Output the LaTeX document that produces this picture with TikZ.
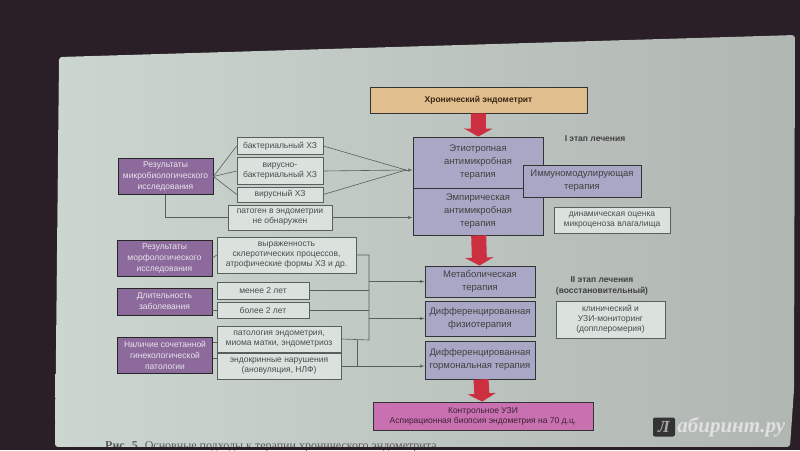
\documentclass[tikz,border=0pt]{standalone}
\usepackage{fontspec}
\setmainfont{Liberation Sans}
\newfontfamily\capfont{Liberation Serif}
\usepackage{tikz}
\usetikzlibrary{positioning, shapes, arrows, arrows.meta}
\definecolor{bgdark}{RGB}{42,31,38}
\definecolor{paperL}{RGB}{204,214,208}
\definecolor{paperR}{RGB}{176,182,178}
\definecolor{boxblue}{RGB}{168,168,198}
\definecolor{boxpurple}{RGB}{140,106,156}
\definecolor{boxpink}{RGB}{200,112,176}
\definecolor{boxorange}{RGB}{224,190,142}
\definecolor{arrowred}{RGB}{204,48,64}
\definecolor{linegrey}{RGB}{88,96,94}
\definecolor{textgrey}{RGB}{70,78,76}
\tikzset{font=\fontsize{8.5}{10}\selectfont}
\tikzstyle{point}    = [coordinate]
\tikzstyle{block}    = [draw=black!80, rectangle, fill=boxblue, text=black!75, align=center, inner sep=1pt, line width=0.8pt, font=\fontsize{9.5}{13}\selectfont]
\tikzstyle{factor}   = [draw=black!85, rectangle, fill=boxpurple, text=white!82!boxpurple, align=center, inner sep=1pt, line width=0.8pt, minimum width=95pt, font=\fontsize{8.5}{11}\selectfont]
\tikzstyle{item}     = [draw=linegrey, rectangle, fill=paperL!70!white, text=textgrey, align=center, inner sep=1pt, line width=0.6pt]
\tikzstyle{stage}    = [font=\bfseries\fontsize{8.5}{11}\selectfont, text=black!75, align=center]
\tikzstyle{bigarrow} = [draw=arrowred, line width=15pt, -{Triangle[width=28pt,length=8pt]}]
\tikzstyle{wire}     = [draw=linegrey, line width=0.6pt]

\begin{document}
\begin{tikzpicture}[x=1pt, y=-1pt, >=latex']
	\useasboundingbox (0,0) rectangle (800,450);
	\fill[bgdark] (0,0) rectangle (800,450);
	\fill[left color=paperL, right color=paperR, rounded corners=3pt] (59,57) -- (795,35) -- (794,390) -- (790,447) -- (55,447) -- cycle;

	% right column: treatment
	\node [rectangle, draw=black!80, line width=0.8pt, fill=boxorange, text=black!70!brown, font=\bfseries\fontsize{8.5}{10}\selectfont, minimum width=217pt, minimum height=26pt] (chron) at (478.5,100) {Хронический эндометрит};
	\node [block, minimum width=130pt, minimum height=51pt] (etio) at (478,162.5) {Этиотропная\\антимикробная\\терапия};
	\node [block, below of=etio, node distance=49pt, minimum width=130pt, minimum height=47pt] (emp) {Эмпирическая\\антимикробная\\терапия};
	\node [block, minimum width=118pt, minimum height=32pt] (immuno) at (582,181) {Иммуномодулирующая\\терапия};
	\node [stage] (stage1) at (595,139) {I этап лечения};
	\node [item, minimum width=116pt, minimum height=26pt] (dyn) at (612,220) {динамическая оценка\\микроценоза влагалища};

	\node [block, minimum width=110pt, minimum height=31pt] (metab) at (480,281.5) {Метаболическая\\терапия};
	\node [block, below of=metab, node distance=37pt, minimum width=110pt, minimum height=35pt] (physio) {Дифференцированная\\физиотерапия};
	\node [block, below of=physio, node distance=41.5pt, minimum width=110pt, minimum height=38pt] (hormon) {Дифференцированная\\гормональная терапия};
	\node [rectangle, draw=black!80, line width=0.8pt, fill=boxpink, text=black!70!boxpink, align=center, minimum width=220pt, minimum height=28pt, inner sep=1pt] (control) at (483,416) {Контрольное УЗИ\\Аспирационная биопсия эндометрия на 70 д.ц.};
	\node [stage] (stage2) at (602,286) {II этап лечения\\(восстановительный)};
	\node [item, minimum width=109pt, minimum height=37pt] (monitor) at (610.5,319.5) {клинический и\\УЗИ-мониторинг\\(допплеромерия)};

	% left column: findings
	\node [factor, minimum height=36pt] (micro) at (165.5,176.5) {Результаты\\микробиологического\\исследования};
	\node [item, minimum width=86pt, minimum height=17pt] (bact) at (280,146) {бактериальный ХЗ};
	\node [item, below of=bact, node distance=25pt, minimum width=86pt, minimum height=27pt] (virbact) {вирусно-\\бактериальный ХЗ};
	\node [item, below of=virbact, node distance=23.5pt, minimum width=86pt, minimum height=15pt] (virus) {вирусный ХЗ};
	\node [item, minimum width=104pt, minimum height=25pt] (nopat) at (280,217.5) {патоген в эндометрии\\не обнаружен};

	\node [factor, minimum height=36pt] (morph) at (164.5,258) {Результаты\\морфологического\\исследования};
	\node [item, minimum width=139pt, minimum height=36pt] (scler) at (286.5,255) {выраженность\\склеротических процессов,\\атрофические формы ХЗ и др.};
	\node [factor, minimum height=27pt] (durat) at (164.5,301.5) {Длительность\\заболевания};
	\node [item, minimum width=92pt, minimum height=17pt] (less2) at (263,290.5) {менее 2 лет};
	\node [item, below of=less2, node distance=19.5pt, minimum width=92pt, minimum height=16pt] (more2) {более 2 лет};
	\node [factor, minimum height=36pt] (gyn) at (165,355) {Наличие сочетанной\\гинекологической\\патологии};
	\node [item, minimum width=124pt, minimum height=26pt] (patend) at (279,339) {патология эндометрия,\\миома матки, эндометриоз};
	\node [item, minimum width=124pt, minimum height=26pt] (endocr) at (279,366) {эндокринные нарушения\\(ановуляция, НЛФ)};

	\node [point] (join) at (406,170) {};
	\node [point] (bus1) at (369,340) {};
	\node [point] (bus2) at (357,340) {};

	\draw [bigarrow] (chron) -- (etio);
	\draw [bigarrow] (emp) -- (metab);
	\draw [bigarrow] (hormon) -- (control);

	\draw [wire] (micro.east) -- (bact.west);
	\draw [wire] (micro.east) -- (virbact.west);
	\draw [wire] (micro.east) -- (virus.west);
	\draw [wire] (bact.east) -- (join);
	\draw [wire] (virbact.east) -- (join);
	\draw [wire] (virus.east) -- (join);
	\draw [wire, ->] (join) -- (join -| etio.west);
	\draw [wire] (micro.south) |- (nopat.west);
	\draw [wire, ->] (nopat.east) -- (nopat.east -| emp.west);

	\draw [wire] (morph.east) -- (scler.west);
	\draw [wire] (durat.east |- more2) -- (more2.west);
	\draw [wire] (gyn.east |- 0,342) -- (patend.west |- 0,342);
	\draw [wire] (gyn.east |- 0,358) -- (endocr.west |- 0,358);
	\draw [wire] (scler.east) -| (bus1) -- (patend.east);
	\draw [wire] (less2.east) -- (less2.east -| bus1);
	\draw [wire] (more2.east) -- (more2.east -| bus1);
	\draw [wire, ->] (bus1 |- metab.west) -- (metab.west);
	\draw [wire, ->] (bus1 |- physio.west) -- (physio.west);
	\draw [wire] (bus2) -- (bus2 |- endocr.east);
	\draw [wire, ->] (endocr.east) -- (endocr.east -| hormon.west);

	% caption and watermark
	\node [anchor=base west, inner sep=0pt, text=black!65, font=\capfont\fontsize{12}{12}\selectfont] (caption) at (105,449) {\textbf{Рис. 5.} Основные подходы к терапии хронического эндометрита};
	\fill[bgdark] (0,447) rectangle (800,450);
	\node [fill=black!80, rounded corners=2pt, minimum width=22pt, minimum height=19pt, inner sep=0pt, text=black!35, font=\capfont\bfseries\itshape\fontsize{17}{17}\selectfont] (wmbox) at (664,427) {Л};
	\node [right=2pt of wmbox, inner sep=0pt, text=white!88!black, font=\capfont\bfseries\itshape\fontsize{21}{21}\selectfont] (wm) {абиринт.ру};
\end{tikzpicture}
\end{document}
